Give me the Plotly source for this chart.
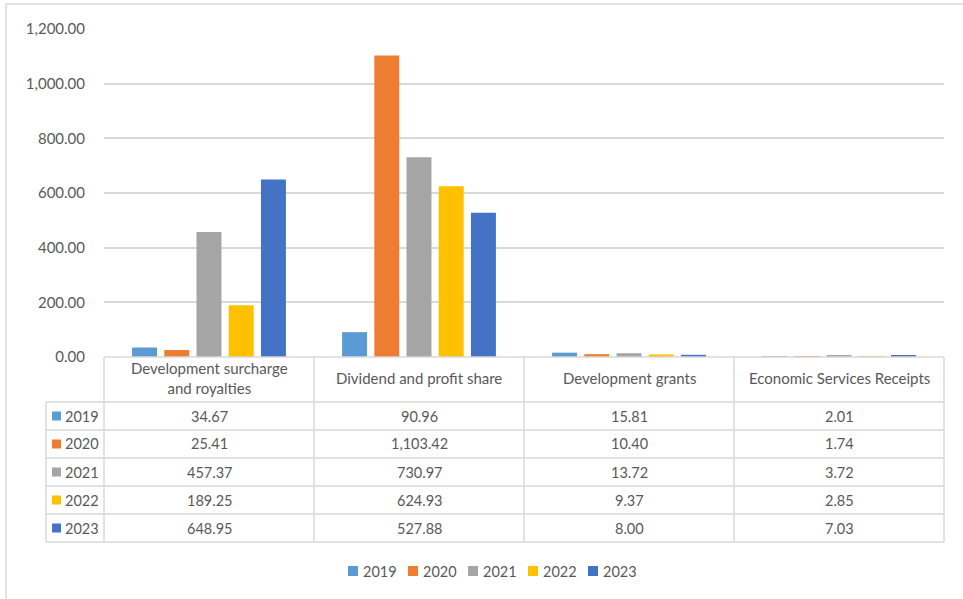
import plotly.graph_objects as go

categories = ["Development surcharge and royalties", "Dividend and profit share",
              "Development grants", "Economic Services Receipts"]
header_labels = ["Development surcharge<br>and royalties", "Dividend and profit share",
                 "Development grants", "Economic Services Receipts"]
years = ["2019", "2020", "2021", "2022", "2023"]
v2019 = [34.67, 90.96, 15.81, 2.01]
v2020 = [25.41, 1103.42, 10.40, 1.74]
v2021 = [457.37, 730.97, 13.72, 3.72]
v2022 = [189.25, 624.93, 9.37, 2.85]
v2023 = [648.95, 527.88, 8.00, 7.03]
series = [v2019, v2020, v2021, v2022, v2023]
colors = ["#5B9BD5", "#ED7D31", "#A5A5A5", "#FFC000", "#4472C4"]
y_ticks = [0, 200, 400, 600, 800, 1000, 1200]

W, H = 963, 599
L, R, T, B = 104, 19, 29, 242
PW, PH = W - L - R, H - T - B
ZERO_Y = T + PH

def px_x(px):
    return (px - L) / PW

def px_y(py):
    return (ZERO_Y - py) / PH

FONT = "Lato, 'Liberation Sans', Arial, sans-serif"
TXT = "#595959"
GRID = "#D9D9D9"

fig = go.Figure()
for yr, vals, col in zip(years, series, colors):
    fig.add_trace(go.Bar(x=categories, y=vals, name=yr, marker_color=col,
                         marker_line_width=0, showlegend=False))

shapes = []
annotations = []

# outer chart border
shapes.append(dict(type="line", xref="paper", yref="paper", x0=px_x(6), x1=px_x(W + 5),
                   y0=px_y(4), y1=px_y(4), line=dict(color=GRID, width=1.5)))
shapes.append(dict(type="line", xref="paper", yref="paper", x0=px_x(6), x1=px_x(6),
                   y0=px_y(4), y1=px_y(H + 5), line=dict(color=GRID, width=1.5)))

# table geometry
ncat = len(categories)
col_w = PW / ncat
header_top = ZERO_Y
header_bot = 402
row_h = 28
left_x = 46
rows_bot = header_bot + row_h * len(years)
col_edges = [L + i * col_w for i in range(ncat + 1)]

def hline(py, xa, xb):
    shapes.append(dict(type="line", xref="paper", yref="paper", x0=px_x(xa), x1=px_x(xb),
                       y0=px_y(py), y1=px_y(py), line=dict(color=GRID, width=1.5)))

def vline(px, ya, yb):
    shapes.append(dict(type="line", xref="paper", yref="paper", x0=px_x(px), x1=px_x(px),
                       y0=px_y(ya), y1=px_y(yb), line=dict(color=GRID, width=1.5)))

hline(header_top, col_edges[0], col_edges[-1])
for r in range(len(years) + 1):
    hline(header_bot + r * row_h, left_x, col_edges[-1])
vline(left_x, header_bot, rows_bot)
for e in col_edges:
    vline(e, header_top, rows_bot)

# header text
for i, lab in enumerate(header_labels):
    annotations.append(dict(xref="paper", yref="paper", x=(i + 0.5) / ncat,
                            y=px_y((header_top + header_bot) / 2 - 1), text=lab, showarrow=False,
                            xanchor="center", yanchor="middle",
                            font=dict(family=FONT, size=15, color=TXT)))

# rows
for r, (yr, vals, col) in enumerate(zip(years, series, colors)):
    cy = header_bot + r * row_h + row_h / 2
    shapes.append(dict(type="rect", xref="paper", yref="paper", x0=px_x(52), x1=px_x(61),
                       y0=px_y(cy - 4.5), y1=px_y(cy + 4.5), fillcolor=col, line=dict(width=0)))
    annotations.append(dict(xref="paper", yref="paper", x=px_x(63), y=px_y(cy), text=yr,
                            showarrow=False, xanchor="left", yanchor="middle",
                            font=dict(family=FONT, size=14.5, color=TXT)))
    for i, v in enumerate(vals):
        annotations.append(dict(xref="paper", yref="paper", x=(i + 0.5) / ncat, y=px_y(cy),
                                text=f"{v:,.2f}", showarrow=False, xanchor="center",
                                yanchor="middle", font=dict(family=FONT, size=14.5, color=TXT)))

# legend
leg_y = 571
leg_x0 = 348
leg_pitch = 60
for k, (yr, col) in enumerate(zip(years, colors)):
    sx = leg_x0 + k * leg_pitch
    shapes.append(dict(type="rect", xref="paper", yref="paper", x0=px_x(sx), x1=px_x(sx + 10),
                       y0=px_y(leg_y - 5), y1=px_y(leg_y + 5), fillcolor=col, line=dict(width=0)))
    annotations.append(dict(xref="paper", yref="paper", x=px_x(sx + 13), y=px_y(leg_y), text=yr,
                            showarrow=False, xanchor="left", yanchor="middle",
                            font=dict(family=FONT, size=14.5, color=TXT)))

fig.update_layout(
    width=W, height=H,
    margin=dict(l=L, r=R, t=T, b=B),
    paper_bgcolor="white", plot_bgcolor="white",
    barmode="group", bargap=0.233, bargroupgap=0.225,
    xaxis=dict(showticklabels=False, showgrid=False, zeroline=False, showline=False,
               ticks=""),
    yaxis=dict(range=[0, 1200], tickvals=y_ticks, tickformat=",.2f", showgrid=True,
               gridcolor=GRID, gridwidth=1.5, zeroline=False, showline=False,
               ticks="outside", ticklen=15, tickcolor="rgba(0,0,0,0)",
               tickfont=dict(family=FONT, size=15, color=TXT)),
    shapes=shapes, annotations=annotations,
    showlegend=False,
)

fig.write_html("out.html")
